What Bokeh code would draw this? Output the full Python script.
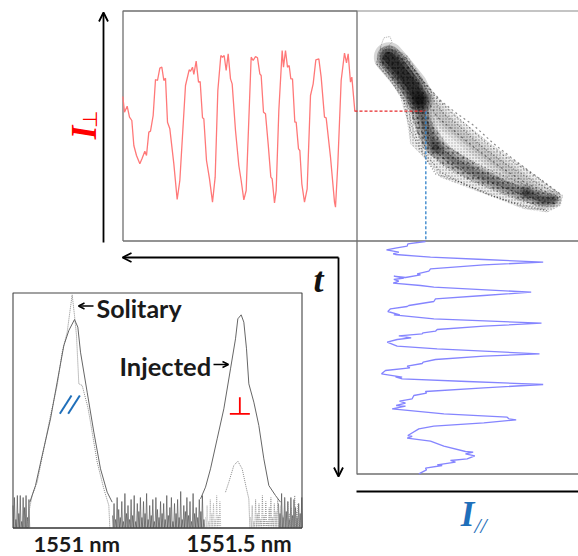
from bokeh.plotting import figure
from bokeh.embed import file_html
from bokeh.resources import INLINE
from bokeh.models import Range1d, Arrow, OpenHead
from bokeh.core.properties import value
import math

red_zx = [37,42,50,57,64,70,78,88,95,103,108,115,120,128,135,141,148,154,160,165,171,178,190,200,208,225,236,240,246,250,257,264,269,276,280,288,297,306,314,322,331,336,341,347,353,360,365,375,385,392,400,407,422,428,435,441,448,452,459,465,473,481,485,492,497,505,515,519,525,531,536,541,546,553,557,564,568,574,582,590,600,608,616,625,632,642,647,660,672,675,682,692,702,708,713,720,724,733]
red_zy = [288,335,317,350,360,435,465,490,473,452,465,395,392,345,237,240,203,200,240,233,365,385,490,597,540,255,208,212,200,222,182,245,243,352,355,480,535,605,530,270,165,170,165,210,160,235,250,390,495,540,598,570,170,180,168,172,220,225,335,340,430,530,535,607,570,330,150,200,150,200,195,235,235,365,365,445,450,550,605,565,285,250,178,175,230,350,352,470,605,620,490,240,158,187,160,245,230,332]

blue_zx = [225,172,170,135,108,145,128,135,240,400,578,400,240,235,200,210,165,130,160,130,145,128,210,250,542,400,255,250,175,170,120,112,148,130,250,573,400,260,255,218,215,145,182,140,110,140,260,567,400,255,218,215,170,178,105,93,155,135,155,350,578,400,225,228,190,185,147,165,137,165,125,280,470,475,497,400,250,205,172,185,170,240,280,345,368,345,373,350,300,315,260,275,225,228,205]
blue_zy = [18,25,32,38,43,50,55,57,65,72,80,88,100,107,115,118,126,122,128,132,137,143,150,155,170,180,190,198,210,213,220,228,238,238,250,263,272,282,287,292,295,301,307,312,320,332,340,355,362,372,380,384,392,397,405,415,425,424,430,438,447,457,468,473,480,490,497,503,510,512,520,535,545,550,553,562,572,580,600,603,608,617,632,648,650,655,661,670,675,680,688,690,698,703,715]

cloud_outer_zx = [90,120,170,220,270,340,420,520,600,637,630,590,520,430,350,270,215,180,170,150,120,75,90]
cloud_outer_zy = [145,135,165,240,300,365,430,500,560,585,615,635,625,590,560,530,465,430,360,290,240,190,145]
cloud_core_zx = [105,160,215,250,300,390,480,560,625,610,540,440,350,270,215,190,170,125,90,105]
cloud_core_zy = [150,175,260,380,440,500,545,570,590,620,610,570,535,490,440,370,300,235,185,150]
cloud_hole_zx = [260,310,360,310,265]
cloud_hole_zy = [395,400,445,450,420]
cloud_loop_zx = [90,100,118,125,105,88,90]
cloud_loop_zy = [140,112,108,125,145,145,140]
cloud_strokes = [
    ([90,130,170,185,215,270,350,440,520,590],[185,245,310,380,450,515,555,590,620,630]),
    ([100,145,180,200,230,290,370,460,540,600],[175,240,310,390,450,505,545,580,610,620]),
    ([105,155,190,208,240,300,380,470,550,615],[165,230,305,385,440,490,530,565,595,610]),
    ([115,165,200,220,250,315,395,480,560,625],[155,225,300,375,430,475,515,550,585,600]),
    ([125,175,210,232,262,330,410,495,570,632],[150,220,295,370,420,465,505,540,575,590]),
    ([135,185,225,260,310,370,450,530,600],[150,215,290,350,390,440,500,550,580]),
    ([145,195,240,280,330,390,465,545,610],[155,215,285,340,380,435,490,540,575]),
    ([155,205,255,300,350,410,480,560,625],[160,225,290,335,375,430,480,530,580]),
    ([165,215,270,320,370,430,500,575,635],[170,240,300,340,375,430,485,540,585]),
    ([80,120,160,178,205,255,330,420,510,585],[190,240,300,385,440,520,545,585,612,628]),
]
cloud_blob_zx = [115,145,185,205]
cloud_blob_zy = [170,205,255,295]
cloud_spine_zx = [205,215,235,255]
cloud_spine_zy = [295,345,400,440]
cloud_lower_zx = [255,310,380,460,520]
cloud_lower_zy = [440,480,520,555,578]
cloud_tail_zx = [530,575,610]
cloud_tail_zy = [578,600,596]
cloud_upper_zx = [230,290,350,430,520,590]
cloud_upper_zy = [300,370,420,480,545,590]
trace_guide_zx = [12,226,226]
trace_guide_zy = [332,332,722]

inj_left_zx = [88,105,125,150,170,190,205,222,232,240,260,280,300,320,335]
inj_left_zy = [650,600,510,400,290,180,135,102,125,200,320,440,550,620,650]
sol_left_zx = [80,85,95,110,130,150,170,185,200,208,215,222,228,235,245,262,270,290,310,325,328]
sol_left_zy = [728,680,630,590,490,390,300,200,140,80,28,90,150,295,300,365,410,530,610,660,728]
inj_right_zx = [120,135,150,170,190,210,225,232,242,250,258,265,280,295,310,325,345,360]
inj_right_zy = [640,605,550,460,370,250,160,100,88,110,190,295,350,420,520,600,630,650]
sol_right_zx = [195,205,220,232,245,258,265,268]
sol_right_zy = [620,590,540,527,550,610,640,728]

noise_a = [22,30,8,32,14,32,6,30,20,32,10,28]
noise_b = [12,24,8,30,18,10,26,6,34,14,22,8,28,12,32,6,24,16,30,10,26,14,34,8,22,12,28,6,30,18,10,26,14,24,8,32,12,20,30,6,24,14,28,10,36,8,22,16,30,12,26,6,34,14,20,10,28,16,32,8]
noise_c = [24,14,34,10,30,16,26,8,30,12,28,20,10,24,14,30]
noise_dot = [10,22,6,28,14,24,8,32,12,26,6,20,30,10,24,16,28,8,22,12,30,6,26,14,20,10,32,16,24,8]

texts = ["Solitary", "Injected", "1551 nm", "1551.5 nm"]

FONT = value("Lato")
p = figure(width=578, height=556, x_range=Range1d(0, 578), y_range=Range1d(556, 0),
           output_backend="svg", toolbar_location=None, min_border=0,
           x_axis_location=None, y_axis_location=None, outline_line_color=None)
p.xgrid.visible = False
p.ygrid.visible = False

def zt(origin, vals):
    return [origin + v / 3 for v in vals]

# panel frames
GR = "#6f6f6f"
p.line([122.5, 122.5, 356.5, 356.5], [240.5, 10.5, 10.5, 474], line_color=GR, line_width=1.3)
p.line([122.5, 578], [240.5, 240.5], line_color=GR, line_width=1.3)
p.line([356.5, 578], [10.5, 10.5], line_color="#8a8a8a", line_width=1.2)
p.line([356.5, 578], [473.5, 473.5], line_color=GR, line_width=1.3)
p.line([12.5, 12.5, 301.5, 301.5], [527.5, 292.5, 292.5, 527.5], line_color="#444444", line_width=1.1)

# time traces
p.line(zt(110, red_zx), zt(0, red_zy), line_color="#ff7878", line_width=1.3)
p.line(zt(350, blue_zx), zt(235, blue_zy), line_color="#8585ff", line_width=1.3)

# cloud
cx, cy = zt(350, cloud_outer_zx), zt(0, cloud_outer_zy)
kx, ky = zt(350, cloud_core_zx), zt(0, cloud_core_zy)
p.patch(cx, cy, fill_color="#000000", fill_alpha=0.07, line_color="#999999", line_alpha=0.5, line_dash="1 2", line_width=0.7)
p.patch(cx, cy, fill_alpha=0, line_color=None, hatch_pattern="dot", hatch_color="#000000", hatch_alpha=0.4, hatch_scale=3)
p.patch(kx, ky, fill_color="#000000", fill_alpha=0.12, line_color=None, hatch_pattern="dot", hatch_color="#000000", hatch_alpha=0.4, hatch_scale=5)
p.line(zt(350, cloud_loop_zx), zt(0, cloud_loop_zy), line_color="#999999", line_width=0.8, line_dash="1 1")
p.patch(zt(350, cloud_hole_zx), zt(0, cloud_hole_zy), fill_color="#ffffff", fill_alpha=0.25, line_color=None)
for i, (sx, sy) in enumerate(cloud_strokes):
    p.line(zt(350, sx), zt(0, sy), line_color="#000000", line_alpha=0.45, line_width=1.2,
           line_dash=["1 2", "1 3", "2 3"][i % 3])

def fuzzy(xs, ys, layers):
    for w, a in layers:
        p.line(zt(350, xs), zt(0, ys), line_color="#000000", line_alpha=a, line_width=w, line_cap="round", line_join="round")

fuzzy(cloud_upper_zx, cloud_upper_zy, [(16, 0.07), (9, 0.08)])
fuzzy(cloud_spine_zx, cloud_spine_zy, [(20, 0.12), (13, 0.18), (7, 0.22)])
fuzzy(cloud_lower_zx, cloud_lower_zy, [(18, 0.10), (11, 0.15), (5, 0.18)])
fuzzy(cloud_tail_zx, cloud_tail_zy, [(16, 0.15), (10, 0.22), (5, 0.25)])
fuzzy(cloud_blob_zx, cloud_blob_zy, [(30, 0.16), (24, 0.26), (18, 0.36), (11, 0.4)])

# guides
p.line(zt(350, trace_guide_zx[:2]), zt(0, trace_guide_zy[:2]), line_color="#e8282a", line_width=1.2, line_dash="3 2")
p.line(zt(350, trace_guide_zx[1:]), zt(0, trace_guide_zy[1:]), line_color="#2f80c8", line_width=1.3, line_dash="3 2")

# spectrum noise
def spikes(x0, step, heights):
    xs, ys = [], []
    for i, h in enumerate(heights):
        xs += [x0 + i * step, x0 + (i + 0.5) * step]
        ys += [527 - h, 527]
    return xs, ys

for x0, st, hs in ((12.5, 1.45, noise_a), (112, 1.55, noise_b), (278, 1.55, noise_c)):
    nx, ny = spikes(x0, st, hs)
    p.line(nx, ny, line_color="#555555", line_width=0.7)
nx, ny = spikes(205, 1.6, noise_dot[:10])
p.line(nx, ny, line_color="#999999", line_width=0.7, line_dash="1 1")
nx, ny = spikes(250, 1.7, noise_dot)
p.line(nx, ny, line_color="#888888", line_width=0.8, line_dash="1 1")

# spectrum peaks
p.line(zt(0, sol_left_zx), zt(285, sol_left_zy), line_color="#888888", line_width=1, line_dash="1 1")
p.line(zt(160, sol_right_zx), zt(285, sol_right_zy), line_color="#888888", line_width=1, line_dash="1 1")
p.line(zt(0, inj_left_zx), zt(285, inj_left_zy), line_color="#666666", line_width=1)
p.line(zt(160, inj_right_zx), zt(285, inj_right_zy), line_color="#666666", line_width=1)
p.line([12.5, 301.5], [527.5, 527.5], line_color="#333333", line_width=1.5)

# polarisation marks
for a, b in ((178, 213), (203, 238)):
    p.line(zt(0, [a, b]), zt(285, [385, 330]), line_color="#1f6fba", line_width=2)
p.line(zt(160, [238, 238]), zt(285, [335, 385]), line_color="#ff0000", line_width=1.8)
p.line(zt(160, [208, 268]), zt(285, [385, 385]), line_color="#ff0000", line_width=1.8)

# arrows
def arrow(x0, y0, x1, y1, w=1.8, s=9):
    p.add_layout(Arrow(end=OpenHead(size=s, line_width=w, line_color="black"), x_start=x0, y_start=y0, x_end=x1, y_end=y1,
                       line_width=w, line_color="black"))
arrow(103, 242, 103, 12)
arrow(338, 257, 122, 257)
arrow(338, 257, 338, 476)
arrow(93, 305.5, 78, 305.5, 1.5, 6)
arrow(213, 364, 228, 364, 1.5, 6)
p.line([356, 578], [491, 491], line_color="black", line_width=2)

# texts
for tx, x, y, size in ((texts[0], 96, 307, "25px"), (texts[1], 119, 365, "25.5px"), (texts[2], 33, 542.5, "21.8px"), (texts[3], 186, 542.5, "22px")):
    p.text([x], [y], text=[tx], text_font=FONT, text_font_style="bold", text_font_size=size,
           text_color="#1a1a1a", text_baseline="middle", text_align="left")
p.text([318], [279], text=["t"], text_font=value("Liberation Serif"), text_font_style="bold italic",
       text_font_size="36px", text_color="#111111", text_align="center", text_baseline="middle")
p.text([84], [132], text=["I"], text_font=value("Liberation Serif"), text_font_style="bold italic",
       text_font_size="35px", text_color="#ff0000", text_align="center", text_baseline="middle", angle=math.pi / 2)
p.text([89], [119], text=["\u22a5"], text_font=value("DejaVu Sans"),
       text_font_size="20px", text_color="#ff0000", text_align="center", text_baseline="middle", angle=math.pi / 2)
p.text([467], [514], text=["I"], text_font=value("Liberation Serif"), text_font_style="bold italic",
       text_font_size="35px", text_color="#1f6fba", text_align="center", text_baseline="middle")
p.text([480], [525], text=["//"], text_font=value("Liberation Serif"), text_font_style="italic",
       text_font_size="22px", text_color="#1f6fba", text_align="center", text_baseline="middle")

open("out.html", "w").write(file_html(p, INLINE))
